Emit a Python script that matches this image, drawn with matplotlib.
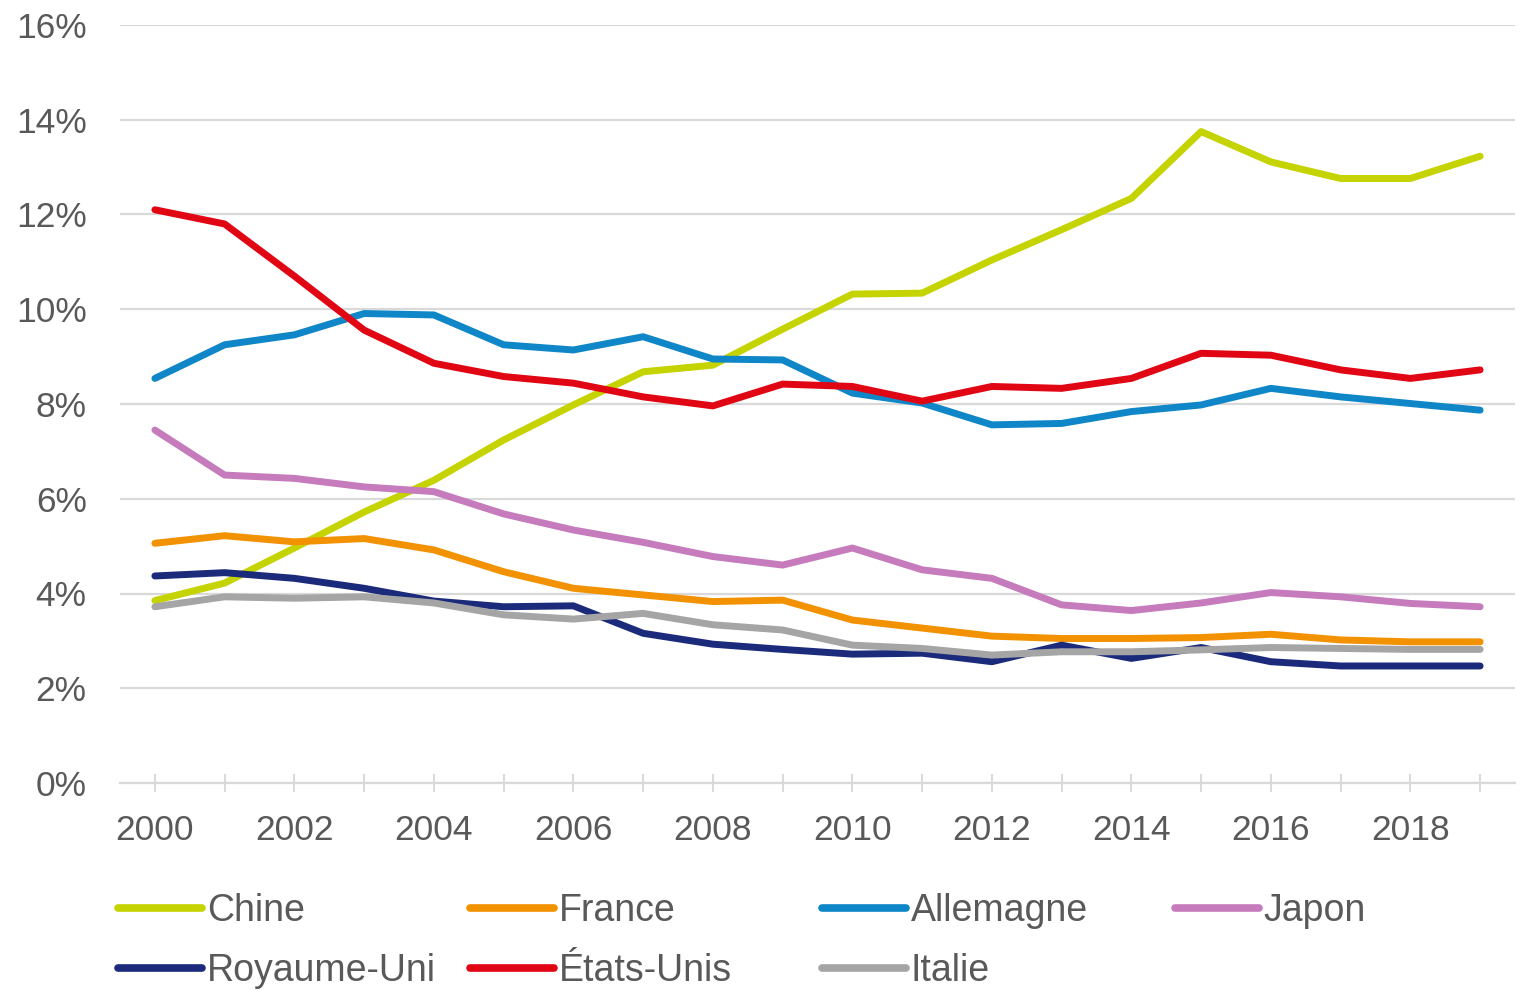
import matplotlib
matplotlib.use('Agg')
import matplotlib.pyplot as plt
from matplotlib.lines import Line2D

plt.rcParams['font.family'] = ['Liberation Sans', 'DejaVu Sans']

## Data (share in %)
years = list(range(2000, 2020))
chine = [3.85, 4.22, 4.96, 5.72, 6.39, 7.24, 7.98, 8.68, 8.82, 9.58,
         10.32, 10.34, 11.04, 11.68, 12.34, 13.75, 13.11, 12.76, 12.76, 13.23]
france = [5.06, 5.22, 5.09, 5.16, 4.92, 4.46, 4.11, 3.97, 3.83, 3.86,
          3.44, 3.27, 3.1, 3.05, 3.05, 3.07, 3.14, 3.02, 2.98, 2.98]
allemagne = [8.54, 9.25, 9.46, 9.91, 9.88, 9.25, 9.14, 9.42, 8.95, 8.93,
             8.23, 8.02, 7.56, 7.59, 7.84, 7.98, 8.33, 8.15, 8.01, 7.87]
japon = [7.45, 6.5, 6.43, 6.25, 6.15, 5.68, 5.34, 5.08, 4.78, 4.6,
         4.96, 4.5, 4.32, 3.76, 3.64, 3.8, 4.02, 3.93, 3.79, 3.72]
royaume_uni = [4.37, 4.44, 4.32, 4.11, 3.84, 3.72, 3.74, 3.16, 2.93, 2.82,
               2.72, 2.74, 2.56, 2.91, 2.63, 2.86, 2.56, 2.47, 2.47, 2.47]
etats_unis = [12.1, 11.8, 10.7, 9.56, 8.86, 8.58, 8.44, 8.15, 7.96, 8.42,
              8.37, 8.06, 8.37, 8.33, 8.54, 9.07, 9.03, 8.72, 8.54, 8.72]
italie = [3.72, 3.93, 3.9, 3.93, 3.8, 3.55, 3.46, 3.58, 3.34, 3.23,
          2.91, 2.84, 2.7, 2.77, 2.77, 2.81, 2.86, 2.84, 2.82, 2.82]

series = [
    ('Chine', chine, '#C5D300'),
    ('France', france, '#F39200'),
    ('Allemagne', allemagne, '#0E86C8'),
    ('Japon', japon, '#C67BBD'),
    ('Royaume-Uni', royaume_uni, '#1B2A7A'),
    ('États-Unis', etats_unis, '#E10613'),
    ('Italie', italie, '#A5A5A5'),
]
y_ticks = [0, 2, 4, 6, 8, 10, 12, 14, 16]

GRID = '#D9D9D9'
TEXT = '#595959'

fig = plt.figure(figsize=(15.36, 9.9), dpi=100)
ax = fig.add_axes([120 / 1536, 1 - 783 / 990, 1395 / 1536, 758 / 990])

handles = {}
for name, vals, color in series:
    line, = ax.plot(years, vals, color=color, lw=5,
                    solid_capstyle='round', solid_joinstyle='round')
    handles[name] = line

ax.set_xlim(1999.5, 2019.5)
ax.set_ylim(0, 16)

ax.set_yticks(y_ticks)
ax.set_yticklabels([f'{v}%' for v in y_ticks])
ax.set_xticks(years)
ax.set_xticklabels([str(y) if y % 2 == 0 else '' for y in years])

ax.grid(axis='y', color=GRID, lw=1.6)
ax.set_axisbelow(True)
for s in ['top', 'right', 'left']:
    ax.spines[s].set_visible(False)
ax.spines['bottom'].set_color(GRID)
ax.spines['bottom'].set_linewidth(1.6)

ax.tick_params(axis='y', length=0, pad=24, labelsize=25.5, labelcolor=TEXT)
ax.tick_params(axis='x', direction='inout', length=13, width=1.4, color=GRID,
               pad=16, labelsize=25.5, labelcolor=TEXT)

# Legend: 4 evenly spaced columns, 2 rows (Excel style)
columns = [['Chine', 'Royaume-Uni'], ['France', 'États-Unis'],
           ['Allemagne', 'Italie'], ['Japon']]
col_x = [118, 470, 822, 1175]
for names, x in zip(columns, col_x):
    hs = [Line2D([0], [0], color=handles[n].get_color(), lw=5.5,
                 solid_capstyle='round') for n in names]
    fig.legend(hs, names, loc='upper left', bbox_to_anchor=(x / 1536, 1 - 893 / 990),
               frameon=False, fontsize=27, labelcolor=TEXT, handlelength=2.25,
               handletextpad=0.12, borderpad=0, borderaxespad=0, labelspacing=0.63)

fig.savefig('out.png', dpi=100, facecolor='white')
